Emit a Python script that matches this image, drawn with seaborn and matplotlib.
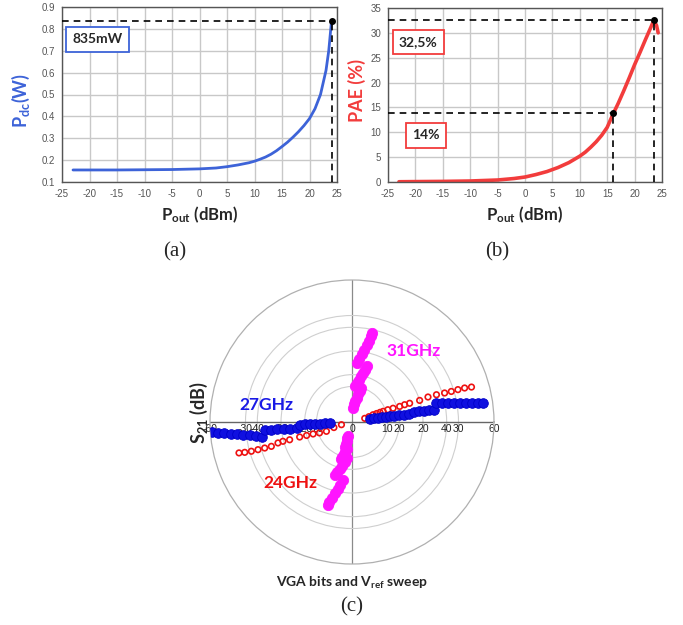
import numpy as np
import matplotlib
matplotlib.use("Agg")
import matplotlib.pyplot as plt
import seaborn as sns

# ── Data ──────────────────────────────────────────────────
# (a) DC power vs output power
pout_a = [-23, -20, -15, -10, -5, 0, 3, 5, 7, 9, 10, 11, 12, 13, 14, 15,
          16, 17, 18, 19, 20, 21, 22, 23, 23.5, 24]
pdc_w = [0.155, 0.155, 0.155, 0.156, 0.157, 0.160, 0.164, 0.170, 0.178, 0.188,
         0.195, 0.204, 0.214, 0.227, 0.243, 0.262, 0.282, 0.305, 0.330, 0.358,
         0.390, 0.435, 0.500, 0.610, 0.700, 0.835]

# (b) PAE vs output power
pout_b = [-23, -20, -15, -10, -5, -2, 0, 2, 4, 6, 8, 10, 11, 12, 13, 14, 15,
          16, 17, 18, 19, 20, 21, 22, 23, 23.5, 24, 24.3]
pae_pct = [0.05, 0.08, 0.12, 0.2, 0.4, 0.7, 1.0, 1.5, 2.1, 2.9, 3.9, 5.2, 6.0,
           7.0, 8.1, 9.4, 11.0, 13.5, 15.8, 18.3, 20.9, 23.6, 26.1, 28.7, 31.2,
           32.5, 31.5, 30.0]
pae_mark_pout = 16          # the "14%" operating point

xticks_top = [-25, -20, -15, -10, -5, 0, 5, 10, 15, 20, 25]

# (c) S21 polar sweep: angle (deg), magnitude (dB)
th_27 = [9.5, 10.3, 8.7, 9.5, 8.4, 9.0, 8.1, 8.5, 7.7, 8.0, 9.2, 9.3, 8.7, 8.9,
         8.3, 12.7, 11.9, 11.2, 10.6, 10.0, 9.4, 9.0, 8.6, 8.3,
         184.1, 184.5, 184.9, 185.7, 186.2, 186.8, 187.5, 188.3, 189.5,
         185.3, 185.6, 185.7, 185.9, 186.0, 186.2,
         183.3, 183.0, 182.7, 183.1, 182.7, 182.1, 182.6]
r_27 = [7.7, 9.5, 11.1, 12.8, 14.5, 16.3, 17.9, 20.1, 22.2, 24.3, 26.5, 28.7,
        30.8, 32.9, 35.0, 36.4, 38.9, 41.3, 43.8, 46.3, 48.8, 51.3, 53.8, 55.9,
        59.3, 56.8, 54.3, 51.4, 48.9, 46.4, 43.5, 41.0, 38.5,
        36.9, 34.4, 31.8, 28.9, 26.3, 23.4,
        22.0, 19.9, 17.8, 15.7, 13.5, 11.4, 9.3]

th_24 = [16.0, 17.5, 19.0, 19.0, 19.0, 18.9, 18.9, 18.5, 18.1, 18.2, 18.0, 17.7,
         18.2, 17.9, 17.4, 17.1, 17.0, 16.8, 16.3,
         194.3, 197.0, 200.0, 198.5, 197.1, 196.5, 196.0, 195.9, 195.6, 195.8,
         196.8, 196.6, 196.4, 196.2, 195.8, 195.3]
r_24 = [5.6, 7.5, 9.4, 11.0, 12.5, 13.9, 16.0, 18.3, 21.2, 23.4, 25.6, 30.0,
        33.8, 37.5, 41.0, 43.9, 46.8, 49.7, 52.6,
        4.6, 8.0, 11.5, 14.5, 17.2, 20.0, 23.0, 27.4, 30.3, 32.5,
        35.6, 38.5, 41.4, 44.3, 47.1, 49.5]

th_31 = [86, 83, 81, 79, 77.5, 76, 75,
         85, 82.5, 80.5, 78.8, 77.3, 76.2, 75.2,
         85.4, 83.3, 81.7, 80.4, 79.3, 78.4, 77.8, 77.5,
         252, 253, 254, 254.5, 255,
         259, 257.5, 256, 254.5, 253.5,
         261.5, 259.5, 257.5, 255.5, 253.5, 252.2,
         261, 259.5, 258, 256.5, 255.2, 254.2, 253.8]
r_31 = [5.9, 7.5, 9.0, 10.5, 12.0, 13.5, 14.9,
        15.1, 16.6, 18.1, 19.6, 21.1, 22.7, 24.3,
        25.0, 27.0, 29.0, 31.0, 33.0, 35.0, 37.0, 38.5,
        6.0, 7.2, 8.4, 9.6, 10.8,
        11.5, 12.8, 14.0, 15.3, 16.5,
        15.5, 17.3, 19.0, 20.5, 22.0, 23.5,
        25.0, 27.0, 29.0, 31.0, 33.0, 35.0, 36.5]

rgrid = [15, 20, 30, 40, 45]
r_ticks_right = [(0, "0"), (15, "10"), (20, "20"), (30, "20"), (40, "40"),
                 (45, "30"), (60, "60")]
r_ticks_left = [(15, "-10"), (20, "-20"), (30, "-20"), (40, "-40"),
                (45, "-30"), (60, "-60")]

# ── Style ─────────────────────────────────────────────────
sns.set_style("white")
plt.rcParams["font.family"] = ["Liberation Sans", "DejaVu Sans"]
plt.rcParams["mathtext.default"] = "regular"
plt.rcParams["axes.unicode_minus"] = False

BLUE_A = "#3D63D8"
RED_B = "#F23C3C"
GRID = "#c8c8c8"
LABEL_FONT = "Lato"

fig = plt.figure(figsize=(6.83, 6.25), dpi=100)


def style_top(ax):
    ax.grid(True, color=GRID, lw=1.0)
    ax.set_axisbelow(True)
    for s in ax.spines.values():
        s.set_color("#555555")
        s.set_linewidth(1.0)
    ax.tick_params(axis="both", direction="out", length=4, width=1,
                   color="#555555", labelsize=7, labelcolor="#555555", pad=1)
    ax.set_xlim(-25, 25)
    ax.set_xticks(xticks_top)
    ax.set_xlabel("")
    ax.set_ylabel("")


def dashed_marker(ax, x, y, x0, y0):
    ax.plot([x0, x], [y, y], ls=(0, (4, 3)), color="black", lw=1.2, zorder=4)
    ax.plot([x, x], [y0, y], ls=(0, (4, 3)), color="black", lw=1.2, zorder=4)
    ax.plot([x], [y], "o", color="black", ms=4, zorder=5)


# ── (a) Pdc ───────────────────────────────────────────────
ax_a = fig.add_axes([62 / 683, 1 - 182 / 625, 275 / 683, 175 / 625])
sns.lineplot(x=pout_a, y=pdc_w, ax=ax_a, color=BLUE_A, lw=2.0)
style_top(ax_a)
ax_a.set_ylim(0.1, 0.9)
ax_a.set_yticks(np.arange(1, 10) / 10)
ax_a.set_yticklabels([f"{v / 10:.1f}" for v in range(1, 10)])
ax_a.set_yticks(np.arange(1, 9) / 10 + 0.05, minor=True)
ax_a.tick_params(axis="y", which="minor", length=2.5, color="#555555")
i_max = int(np.argmax(pdc_w))
dashed_marker(ax_a, pout_a[i_max], pdc_w[i_max], -25, 0.1)
ax_a.text(0.128, 0.815, f"{pdc_w[i_max] * 1000:.0f}mW", transform=ax_a.transAxes,
          ha="center", va="center", fontsize=10, fontweight="bold",
          family=LABEL_FONT,
          bbox=dict(boxstyle="square,pad=0.45", fc="white", ec=BLUE_A, lw=1.3))

# ── (b) PAE ───────────────────────────────────────────────
ax_b = fig.add_axes([388 / 683, 1 - 182 / 625, 274 / 683, 174 / 625])
sns.lineplot(x=pout_b, y=pae_pct, ax=ax_b, color=RED_B, lw=2.6)
style_top(ax_b)
ax_b.set_ylim(0, 35)
ax_b.set_yticks(range(0, 36, 5))
j_max = int(np.argmax(pae_pct))
dashed_marker(ax_b, pout_b[j_max], pae_pct[j_max], -25, 0)
j_mk = pout_b.index(pae_mark_pout)
dashed_marker(ax_b, pout_b[j_mk], pae_pct[j_mk] + 0.3, -25, 0)
ax_b.text(0.11, 0.805, f"{pae_pct[j_max]:.1f}%".replace(".", ","),
          transform=ax_b.transAxes, ha="center", va="center", fontsize=10,
          fontweight="bold", family=LABEL_FONT,
          bbox=dict(boxstyle="square,pad=0.45", fc="white", ec=RED_B, lw=1.3))
ax_b.text(0.137, 0.268, "14%", transform=ax_b.transAxes, ha="center",
          va="center", fontsize=10, fontweight="bold", family=LABEL_FONT,
          bbox=dict(boxstyle="square,pad=0.45", fc="white", ec=RED_B, lw=1.3))

# axis titles for top panels
fig.text(21 / 683, 1 - 100 / 625, "P$_{dc}$(W)", rotation=90, ha="center",
         va="center", fontsize=13, fontweight="bold", color=BLUE_A,
         family=LABEL_FONT)
fig.text(357 / 683, 1 - 90 / 625, "PAE (%)", rotation=90, ha="center",
         va="center", fontsize=13, fontweight="bold", color=RED_B,
         family=LABEL_FONT)
for xc in (200, 525):
    fig.text(xc / 683, 1 - 215 / 625, "P$_{out}$ (dBm)", ha="center",
             va="center", fontsize=12, fontweight="bold", family=LABEL_FONT)
fig.text(175 / 683, 1 - 252 / 625, "(a)", ha="center", va="center",
         fontsize=15, family="Liberation Serif")
fig.text(497 / 683, 1 - 252 / 625, "(b)", ha="center", va="center",
         fontsize=15, family="Liberation Serif")

# ── (c) polar S21 ─────────────────────────────────────────
pax = fig.add_axes([210 / 683, 1 - 564 / 625, 284 / 683, 284 / 625],
                   projection="polar")
pax.set_ylim(0, 60)
pax.set_yticks(rgrid)
pax.set_yticklabels([])
pax.set_xticks(np.deg2rad([90, 270]))
pax.set_xticklabels([])
pax.xaxis.grid(True, color="#8a8a8a", lw=0.9)
pax.yaxis.grid(True, color="#cfcfcf", lw=0.8)
pax.spines["polar"].set_color("#b0b0b0")
pax.spines["polar"].set_linewidth(0.9)
pax.plot([0, 0], [0, 60], color="#666666", lw=1.0, zorder=1)
pax.plot([np.pi, np.pi], [0, 60], color="#666666", lw=1.0, zorder=1)

for r, lbl in r_ticks_right:
    pax.annotate(lbl, xy=(0, r), xytext=(0, -1.5), textcoords="offset points",
                 ha="center", va="top", fontsize=7.5, color="#222222", zorder=2)
for r, lbl in r_ticks_left:
    pax.annotate(lbl, xy=(np.pi, r), xytext=(0, -1.5), textcoords="offset points",
                 ha="center", va="top", fontsize=7.5, color="#222222", zorder=2)

sns.scatterplot(x=np.deg2rad(th_24), y=r_24, ax=pax, marker="o", s=16,
                facecolor="none", edgecolor="#ee1111", linewidth=1.2, zorder=3)
sns.scatterplot(x=np.deg2rad(th_27), y=r_27, ax=pax, marker="o", s=48,
                color="#1010e0", edgecolor="#0000c8", linewidth=0.6, zorder=4)
sns.scatterplot(x=np.deg2rad(th_31), y=r_31, ax=pax, marker="o", s=55,
                color="#ff14ff", edgecolor="#ff14ff", linewidth=0.6, zorder=4)
pax.set_xlabel("")
pax.set_ylabel("")

fig.text(266 / 683, 1 - 405 / 625, "27GHz", ha="center", va="center",
         fontsize=12.5, fontweight="bold", color="#1a1ae6", family=LABEL_FONT)
fig.text(414 / 683, 1 - 351 / 625, "31GHz", ha="center", va="center",
         fontsize=12.5, fontweight="bold", color="#ff14ff", family=LABEL_FONT)
fig.text(290 / 683, 1 - 483 / 625, "24GHz", ha="center", va="center",
         fontsize=12.5, fontweight="bold", color="#ee1111", family=LABEL_FONT)
fig.text(199 / 683, 1 - 413 / 625, "S$_{21}$ (dB)", rotation=90, ha="center",
         va="center", fontsize=13, fontweight="bold", family=LABEL_FONT)
fig.text(352 / 683, 1 - 583 / 625, "VGA bits and V$_{ref}$ sweep", ha="center",
         va="center", fontsize=10, fontweight="bold", family=LABEL_FONT)
fig.text(352 / 683, 1 - 607 / 625, "(c)", ha="center", va="center",
         fontsize=15, family="Liberation Serif")

fig.savefig("out.png", dpi=100, facecolor="white")
